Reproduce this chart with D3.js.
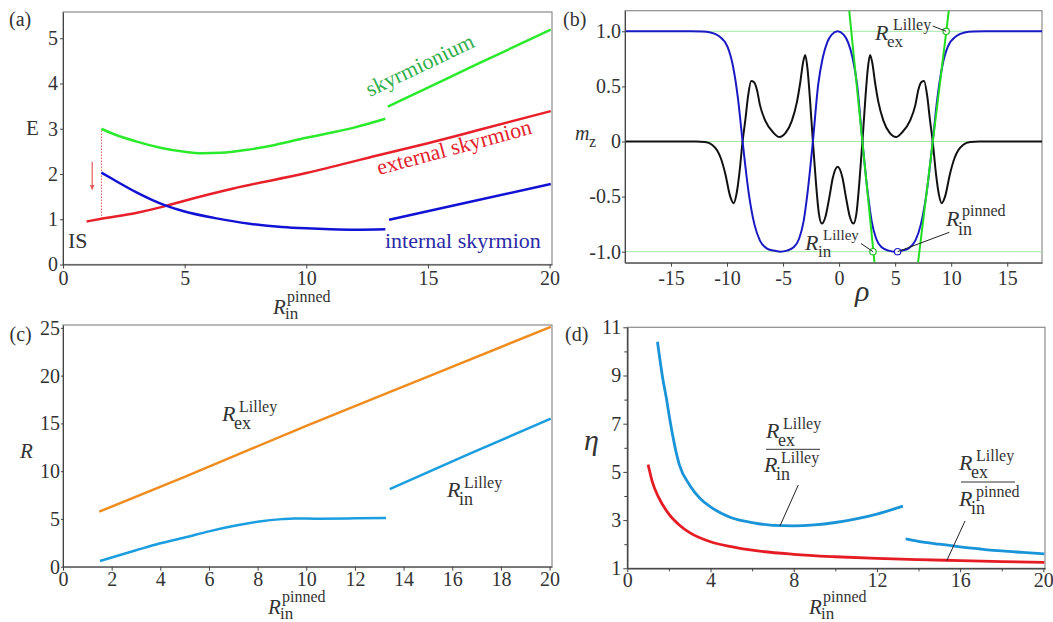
<!DOCTYPE html>
<html>
<head>
<meta charset="utf-8">
<script src="https://cdn.jsdelivr.net/npm/d3@7"></script>
<style>
body { margin: 0; background: #fff; }
svg text { font-family: 'Liberation Serif', 'Times New Roman', serif; }
.axis line, .axis path { stroke: #444; }
</style>
</head>
<body>
<svg id="fig" width="1053" height="622"></svg>
<script>
const SERIF = "'Liberation Serif', 'Times New Roman', serif";

// ---- panel (a): energies vs R_in^pinned
const aXTicks = [0, 5, 10, 15, 20];
const aYTicks = [0, 1, 2, 3, 4, 5];
const skyrmioniumLow = [[1.58, 3.0], [2, 2.9], [3, 2.72], [4, 2.58], [5, 2.49], [5.7, 2.46], [6.5, 2.47], [7.5, 2.53], [8.5, 2.62], [10, 2.8], [11, 2.91], [12, 3.03], [13.25, 3.22]];
const skyrmioniumHigh = [[13.35, 3.49], [15, 3.91], [17, 4.42], [20.05, 5.19]];
const externalSkyrmion = [[0.97, 0.95], [1.58, 1.01], [3, 1.14], [4.2, 1.29], [5, 1.41], [7, 1.68], [10, 2.02], [13, 2.42], [15, 2.68], [17, 2.96], [20.05, 3.39]];
const internalLow = [[1.58, 2.03], [2, 1.9], [3, 1.6], [4.23, 1.3], [5, 1.17], [6.2, 1.03], [7.67, 0.9], [9, 0.83], [10, 0.8], [11, 0.78], [12, 0.77], [13.25, 0.78]];
const internalHigh = [[13.4, 0.99], [16.7, 1.38], [20.05, 1.78]];
const aDropX = 1.58;

// ---- panel (b): profiles m_z(rho)
const bXTicks = [-15, -10, -5, 0, 5, 10, 15];
const bYTicks = [-1, -0.5, 0, 0.5, 1];
const bYTickLabels = ['-1.0', '-0.5', '0', '0.5', '1.0'];
const mzProfile = [[-19.1, 1.0], [-13.26, 1.0], [-12.26, 0.998], [-11.46, 0.99], [-10.76, 0.96], [-9.96, 0.86], [-9.46, 0.68], [-9.01, 0.38], [-8.61, 0.0], [-8.06, -0.47], [-7.56, -0.75], [-7.06, -0.9], [-6.46, -0.97], [-5.86, -0.99], [-5.26, -1.0], [-4.66, -0.99], [-4.06, -0.96], [-3.56, -0.88], [-3.16, -0.72], [-2.81, -0.46], [-2.34, 0.0], [-1.86, 0.52], [-1.46, 0.76], [-1.06, 0.9], [-0.66, 0.97], [-0.13, 1.0], [0.4, 0.97], [0.8, 0.9], [1.2, 0.76], [1.6, 0.52], [2.08, 0.0], [2.55, -0.46], [2.9, -0.72], [3.3, -0.88], [3.8, -0.96], [4.4, -0.99], [5.0, -1.0], [5.6, -0.99], [6.2, -0.97], [6.8, -0.9], [7.3, -0.75], [7.8, -0.47], [8.35, 0.0], [8.75, 0.38], [9.2, 0.68], [9.7, 0.86], [10.5, 0.96], [11.2, 0.99], [12.0, 0.998], [13.0, 1.0], [18.1, 1.0]];
const mrProfile = [[-19.1, 0], [-12.76, 0], [-11.96, -0.005], [-11.34, -0.03], [-10.89, -0.08], [-10.56, -0.15], [-10.16, -0.29], [-9.71, -0.5], [-9.41, -0.56], [-9.16, -0.48], [-8.91, -0.3], [-8.61, 0], [-8.36, 0.2], [-8.11, 0.42], [-7.84, 0.55], [-7.61, 0.54], [-7.33, 0.47], [-7.06, 0.33], [-6.59, 0.19], [-5.86, 0.08], [-5.34, 0.04], [-4.76, 0.08], [-4.21, 0.19], [-3.76, 0.36], [-3.46, 0.54], [-3.21, 0.72], [-3.02, 0.785], [-2.81, 0.65], [-2.61, 0.4], [-2.34, 0], [-2.06, -0.38], [-1.81, -0.65], [-1.54, -0.745], [-1.21, -0.68], [-0.86, -0.5], [-0.56, -0.33], [-0.13, -0.23], [0.3, -0.33], [0.6, -0.5], [0.95, -0.68], [1.28, -0.745], [1.55, -0.65], [1.8, -0.38], [2.08, 0], [2.35, 0.4], [2.55, 0.65], [2.76, 0.785], [2.95, 0.72], [3.2, 0.54], [3.5, 0.36], [3.95, 0.19], [4.5, 0.08], [5.08, 0.04], [5.6, 0.08], [6.33, 0.19], [6.8, 0.33], [7.07, 0.47], [7.35, 0.54], [7.58, 0.55], [7.85, 0.42], [8.1, 0.2], [8.35, 0], [8.65, -0.3], [8.9, -0.48], [9.15, -0.56], [9.45, -0.5], [9.9, -0.29], [10.3, -0.15], [10.63, -0.08], [11.08, -0.03], [11.7, -0.005], [12.5, 0], [18.1, 0]];
const tangentInner = [[0.9, 1.19], [3.16, -1.1]];
const tangentOuter = [[7.04, -1.1], [9.79, 1.19]];
const bGuides = [-1, 0, 1];
const markerRho = [3.02, 5.22, 9.55];
const markerMz = [-1, -1, 1];

// ---- panel (c): radii
const cXTicks = [0, 2, 4, 6, 8, 10, 12, 14, 16, 18, 20];
const cYTicks = [0, 5, 10, 15, 20, 25];
const rexLilley = [[1.49, 5.76], [5, 9.4], [10, 14.75], [15, 19.9], [20.05, 25.1]];
const rinLilleyLow = [[1.52, 0.6], [3, 1.72], [4, 2.45], [5, 3.05], [6, 3.7], [7, 4.25], [8, 4.7], [9, 4.98], [9.5, 5.05], [10.5, 5.03], [12, 5.06], [13.28, 5.1]];
const rinLilleyHigh = [[13.43, 8.12], [16.7, 11.8], [20.05, 15.5]];

// ---- panel (d): ratios eta
const dXTicks = [0, 4, 8, 12, 16, 20];
const dXMinor = [2, 6, 10, 14, 18];
const dYTicks = [1, 3, 5, 7, 9, 11];
const dYMinor = [2, 4, 6, 8, 10];
const ratioLilleyLow = [[1.45, 10.4], [1.7, 8.9], [1.89, 8.0], [2, 7.4], [2.5, 5.3], [3, 4.45], [3.5, 3.9], [4, 3.55], [5, 3.1], [6, 2.9], [7, 2.78], [8, 2.76], [9, 2.8], [10, 2.9], [11, 3.05], [12, 3.25], [13.25, 3.58]];
const ratioLilleyHigh = [[13.38, 2.22], [14, 2.12], [15, 2.0], [16, 1.89], [17, 1.8], [18, 1.72], [19, 1.66], [20.05, 1.6]];
const ratioPinned = [[1, 5.3], [1.2, 4.6], [1.5, 3.95], [2, 3.25], [2.5, 2.8], [3, 2.48], [4, 2.1], [5, 1.9], [6, 1.75], [8, 1.58], [10, 1.48], [12, 1.41], [14, 1.36], [16, 1.32], [18, 1.28], [20.05, 1.25]];

const svg = d3.select('#fig');
const defs = svg.append('defs');

defs.append('marker')
  .attr('id', 'arrow')
  .attr('viewBox', '0 0 10 10')
  .attr('refX', 5).attr('refY', 5)
  .attr('markerWidth', 5).attr('markerHeight', 5)
  .attr('orient', 'auto')
  .append('path')
  .attr('d', 'M0,1 L10,5 L0,9 z')
  .attr('fill', '#e35a5a');

function makePanel(id, xDomain, yDomain, left, right, top, bottom) {
  const x = d3.scaleLinear().domain(xDomain).range([left, right]);
  const y = d3.scaleLinear().domain(yDomain).range([bottom, top]);
  defs.append('clipPath').attr('id', 'clip-' + id)
    .append('rect')
    .attr('x', left).attr('y', top)
    .attr('width', right - left).attr('height', bottom - top);
  svg.append('rect')
    .attr('x', left).attr('y', top)
    .attr('width', right - left).attr('height', bottom - top)
    .attr('fill', 'none')
    .attr('stroke', '#8c8c8c')
    .attr('stroke-width', 1.2);
  const plot = svg.append('g').attr('clip-path', `url(#clip-${id})`);
  return { x, y, plot };
}

function styleAxis(g) {
  g.attr('font-family', SERIF).attr('font-size', 20);
  g.selectAll('text').attr('fill', '#333');
}

function addAxes(p, o) {
  const xAxis = d3.axisBottom(p.x).tickValues(o.xTicks).tickFormat(o.xFormat || (d => String(d)))
    .tickSizeInner(o.xSize).tickSizeOuter(0).tickPadding(o.xPad);
  const yAxis = d3.axisLeft(p.y).tickValues(o.yTicks).tickFormat(o.yFormat || (d => String(d)))
    .tickSizeInner(o.ySize).tickSizeOuter(0).tickPadding(o.yPad);
  svg.append('g').attr('class', 'axis')
    .attr('transform', `translate(0,${p.y.range()[0]})`)
    .call(xAxis)
    .call(styleAxis);
  svg.append('g').attr('class', 'axis')
    .attr('transform', `translate(${p.x.range()[0]},0)`)
    .call(yAxis)
    .call(styleAxis);
  if (o.xMinor) {
    svg.append('g').attr('class', 'axis')
      .attr('transform', `translate(0,${p.y.range()[0]})`)
      .call(d3.axisBottom(p.x).tickValues(o.xMinor).tickFormat('').tickSizeInner(3).tickSizeOuter(0));
  }
  if (o.yMinor) {
    svg.append('g').attr('class', 'axis')
      .attr('transform', `translate(${p.x.range()[0]},0)`)
      .call(d3.axisLeft(p.y).tickValues(o.yMinor).tickFormat('').tickSizeInner(3).tickSizeOuter(0));
  }
}

function drawLine(p, data, color, width, curve) {
  const line = d3.line()
    .x(d => p.x(d[0]))
    .y(d => p.y(d[1]))
    .curve(curve || d3.curveMonotoneX);
  return p.plot.append('path')
    .datum(data)
    .attr('d', line)
    .attr('fill', 'none')
    .attr('stroke', color)
    .attr('stroke-width', width);
}

function txt(x, y, s, size, opts = {}) {
  const t = svg.append('text')
    .attr('x', x).attr('y', y)
    .attr('font-family', SERIF)
    .attr('font-size', size)
    .attr('fill', opts.fill || '#333')
    .text(s);
  if (opts.italic) t.attr('font-style', 'italic');
  if (opts.rotate) t.attr('transform', `rotate(${opts.rotate},${x},${y})`);
  return t;
}

// R with superscript and subscript stacked, as one text element
function rSym(x, y, sup, sub, o = {}) {
  const t = svg.append('text')
    .attr('font-family', SERIF)
    .attr('fill', '#333');
  t.append('tspan')
    .attr('x', x).attr('y', y)
    .attr('font-size', o.size || 22)
    .attr('font-style', 'italic')
    .text('R');
  t.append('tspan')
    .attr('x', x + (o.supDx || 17)).attr('y', y + (o.supDy || -9))
    .attr('font-size', o.supSize || 16)
    .text(sup);
  t.append('tspan')
    .attr('x', x + (o.subDx || 12)).attr('y', y + (o.subDy || 8))
    .attr('font-size', o.subSize || 18)
    .text(sub);
  return t;
}
const axisLabel = { size: 21, supDx: 14, supDy: -12, subDx: 12, subDy: 5, subSize: 17 };

function leader(x1, y1, x2, y2) {
  svg.append('line')
    .attr('x1', x1).attr('y1', y1)
    .attr('x2', x2).attr('y2', y2)
    .attr('stroke', '#222')
    .attr('stroke-width', 1);
}

// ================= (a)
const pa = makePanel('a', [0, 20.1], [0, 5.58], 63, 552, 12, 264.5);
addAxes(pa, { xTicks: aXTicks, yTicks: aYTicks, xSize: 4, xPad: 2, ySize: 3, yPad: 2 });

pa.plot.append('line')
  .attr('x1', pa.x(aDropX)).attr('x2', pa.x(aDropX))
  .attr('y1', pa.y(externalSkyrmion[1][1])).attr('y2', pa.y(skyrmioniumLow[0][1]))
  .attr('stroke', '#e03030')
  .attr('stroke-width', 1)
  .attr('stroke-dasharray', '1.2,1.8');

drawLine(pa, externalSkyrmion, '#e8202a', 2.5);
drawLine(pa, skyrmioniumLow, '#2bea2b', 2.5);
drawLine(pa, skyrmioniumHigh, '#2bea2b', 2.5);
drawLine(pa, internalLow, '#1212d4', 2.5);
drawLine(pa, internalHigh, '#1212d4', 2.5);

svg.append('line')
  .attr('x1', pa.x(1.2)).attr('x2', pa.x(1.2))
  .attr('y1', pa.y(2.27)).attr('y2', pa.y(1.7))
  .attr('stroke', '#e35a5a')
  .attr('stroke-width', 1.2)
  .attr('marker-end', 'url(#arrow)');

txt(9, 26, '(a)', 20);
txt(26, 135, 'E', 21);
txt(68, 248, 'IS', 22);
txt(370, 97, 'skyrmionium', 22, { fill: '#2fae4a', rotate: -25.5 });
txt(379, 175, 'external skyrmion', 22, { fill: '#e4222b', rotate: -15.1 });
txt(385, 248, 'internal skyrmion', 22, { fill: '#2a2aa6' });
rSym(273, 314, 'pinned', 'in', axisLabel);

// ================= (b)
const pb = makePanel('b', [-19.1, 18.1], [-1.1, 1.187], 625, 1042, 10.7, 262.7);
addAxes(pb, { xTicks: bXTicks, yTicks: bYTicks, yFormat: (d, i) => bYTickLabels[i], xSize: 4, xPad: 4, ySize: 3, yPad: 1 });

pb.plot.selectAll('line.guide')
  .data(bGuides)
  .enter()
  .append('line')
  .attr('class', 'guide')
  .attr('x1', pb.x.range()[0]).attr('x2', pb.x.range()[1])
  .attr('y1', d => pb.y(d)).attr('y2', d => pb.y(d))
  .attr('stroke', '#a6e8a6')
  .attr('stroke-width', 1);

drawLine(pb, mrProfile, '#111', 2);
drawLine(pb, mzProfile, '#1a1ac4', 2);
drawLine(pb, tangentInner, '#22dd22', 2, d3.curveLinear);
drawLine(pb, tangentOuter, '#22dd22', 2, d3.curveLinear);

leader(861, 243.5, pb.x(markerRho[0]), pb.y(markerMz[0]));
leader(949.3, 232.3, pb.x(markerRho[1]), pb.y(markerMz[1]));
leader(932.7, 26, pb.x(markerRho[2]), pb.y(markerMz[2]));

const markerStroke = ['#22bb22', '#1a1ac4', '#22bb22'];
pb.plot.selectAll('circle')
  .data(markerRho)
  .enter()
  .append('circle')
  .attr('cx', d => pb.x(d))
  .attr('cy', (d, i) => pb.y(markerMz[i]))
  .attr('r', 3.2)
  .attr('fill', '#fff')
  .attr('stroke', (d, i) => markerStroke[i])
  .attr('stroke-width', 1.2);

txt(563, 26, '(b)', 20);
txt(575, 140, 'm', 20, { italic: true });
txt(589, 147, 'z', 16);
txt(855, 301, 'ρ', 30, { italic: true });
rSym(875, 40, 'Lilley', 'ex', { supDx: 18, supDy: -10, subDx: 12, subDy: 7, subSize: 17 });
rSym(805, 250, 'Lilley', 'in', { supDx: 18, supDy: -10, subDx: 13, subDy: 7, supSize: 15, subSize: 17 });
rSym(946, 226, 'pinned', 'in', { supDx: 16, supDy: -10, subDx: 12, subDy: 9 });

// ================= (c)
const pc = makePanel('c', [0, 20.1], [0, 25.3], 63, 552, 325, 566.7);
addAxes(pc, { xTicks: cXTicks, yTicks: cYTicks, xSize: 4, xPad: 1, ySize: 2, yPad: 1 });

drawLine(pc, rexLilley, '#f08c1e', 2.5);
drawLine(pc, rinLilleyLow, '#1a9ee0', 2.5);
drawLine(pc, rinLilleyHigh, '#1a9ee0', 2.5);

txt(9.5, 341, '(c)', 20);
txt(20, 458, 'R', 21, { italic: true });
rSym(222, 421, 'Lilley', 'ex');
rSym(447, 497, 'Lilley', 'in');
rSym(268, 614, 'pinned', 'in', axisLabel);

// ================= (d)
const pd = makePanel('d', [0, 20.08], [1, 11], 627.3, 1045, 327.3, 568.3);
addAxes(pd, { xTicks: dXTicks, yTicks: dYTicks, xMinor: dXMinor, yMinor: dYMinor, xSize: 4, xPad: 1, ySize: 4, yPad: 2 });

drawLine(pd, ratioPinned, '#e51c24', 2.8);
drawLine(pd, ratioLilleyLow, '#1a94d8', 2.8);
drawLine(pd, ratioLilleyHigh, '#1a94d8', 2.8);

txt(565, 341, '(d)', 20);
txt(584, 450, 'η', 30, { italic: true });

rSym(766, 438, 'Lilley', 'ex');
svg.append('line').attr('x1', 766).attr('x2', 820).attr('y1', 449.3).attr('y2', 449.3).attr('stroke', '#333').attr('stroke-width', 1);
rSym(764, 472, 'Lilley', 'in');
leader(798.3, 485, pd.x(7.34), pd.y(2.76));

rSym(959, 470, 'Lilley', 'ex');
svg.append('line').attr('x1', 961).attr('x2', 1015).attr('y1', 482).attr('y2', 482).attr('stroke', '#333').attr('stroke-width', 1);
rSym(959, 506, 'pinned', 'in');
leader(965, 521, pd.x(15.36), pd.y(1.32));

rSym(809, 614, 'pinned', 'in', axisLabel);
</script>
</body>
</html>
